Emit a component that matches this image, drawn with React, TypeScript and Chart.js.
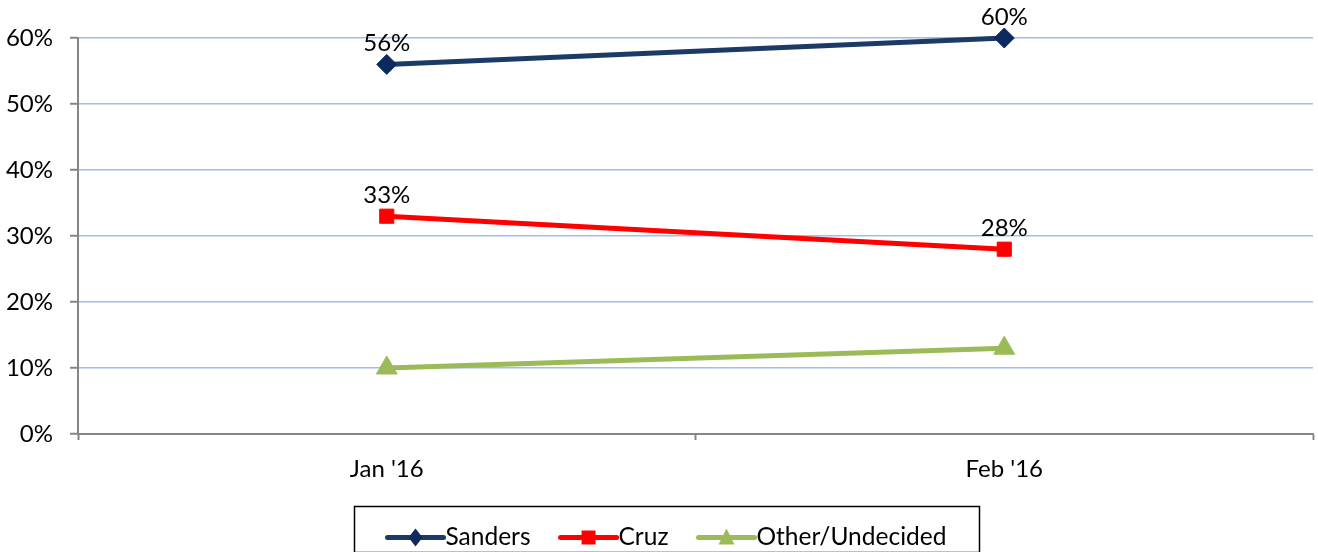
import React, { useEffect, useRef } from "react";
import { Chart, registerables } from "chart.js";

Chart.register(...registerables);

const categories = ["Jan '16", "Feb '16"];
const seriesNames = ["Sanders", "Cruz", "Other/Undecided"];
const sandersValues = [56, 60];
const cruzValues = [33, 28];
const otherValues = [10, 13];
const labeledSeries = [0, 1];

const FONT = "Lato, 'Open Sans', sans-serif";

const dataLabelPlugin = {
  id: "dataLabels",
  afterDatasetsDraw(chart: any) {
    const ctx = chart.ctx;
    labeledSeries.forEach((i) => {
      const ds = chart.data.datasets[i];
      const meta = chart.getDatasetMeta(i);
      meta.data.forEach((pt: any, j: number) => {
        ctx.save();
        ctx.font = `24px ${FONT}`;
        ctx.fillStyle = "#000";
        ctx.textAlign = "center";
        ctx.textBaseline = "middle";
        ctx.fillText(`${ds.data[j]}%`, pt.x, pt.y - 21);
        ctx.restore();
      });
    });
  },
};

function drawMarker(ctx: any, style: string, x: number, y: number, color: string) {
  ctx.fillStyle = color;
  ctx.beginPath();
  if (style === "rectRot") {
    ctx.moveTo(x, y - 9);
    ctx.lineTo(x + 7, y);
    ctx.lineTo(x, y + 9);
    ctx.lineTo(x - 7, y);
  } else if (style === "rect") {
    ctx.rect(x - 7, y - 7, 14, 14);
  } else {
    ctx.moveTo(x, y - 9);
    ctx.lineTo(x + 8, y + 7);
    ctx.lineTo(x - 8, y + 7);
  }
  ctx.closePath();
  ctx.fill();
}

const boxLegendPlugin = {
  id: "boxLegend",
  afterDraw(chart: any) {
    const ctx = chart.ctx;
    ctx.save();
    ctx.font = `24.5px ${FONT}`;
    const lineW = 56;
    const textGap = 2;
    const itemGap = 30;
    const padX = 33;
    const items = chart.data.datasets.map((ds: any) => ({
      ds,
      w: ctx.measureText(ds.label).width,
    }));
    const total =
      items.reduce((s: number, it: any) => s + lineW + textGap + it.w, 0) +
      itemGap * (items.length - 1);
    const boxW = total + 2 * padX;
    const cx = chart.width / 2 + 7;
    const boxLeft = Math.round(cx - boxW / 2) + 0.5;
    const boxTop = chart.height - 46 + 0.5;
    ctx.strokeStyle = "#000";
    ctx.lineWidth = 1.5;
    ctx.strokeRect(boxLeft, boxTop, Math.round(boxW), 46);
    const y = boxTop + 31;
    let x = boxLeft + padX;
    items.forEach((it: any) => {
      ctx.strokeStyle = it.ds.borderColor;
      ctx.lineWidth = 5;
      ctx.lineCap = "round";
      ctx.beginPath();
      ctx.moveTo(x, y);
      ctx.lineTo(x + lineW, y);
      ctx.stroke();
      drawMarker(ctx, it.ds.pointStyle, x + lineW / 2, y, it.ds.pointBackgroundColor);
      ctx.fillStyle = "#000";
      ctx.textAlign = "left";
      ctx.textBaseline = "middle";
      ctx.fillText(it.ds.label, x + lineW + textGap, y);
      x += lineW + textGap + it.w + itemGap;
    });
    ctx.restore();
  },
};

export default function App() {
  const canvasRef = useRef<HTMLCanvasElement | null>(null);

  useEffect(() => {
    if (!canvasRef.current) return;
    const chart = new Chart(canvasRef.current, {
      type: "line",
      data: {
        labels: categories,
        datasets: [
          {
            label: seriesNames[0],
            data: sandersValues,
            borderColor: "#1b3a66",
            borderWidth: 5,
            pointStyle: "rectRot",
            pointRadius: 10,
            pointBackgroundColor: "#0c2a5e",
            pointBorderColor: "#0c2a5e",
            pointBorderWidth: 1,
            clip: false,
          },
          {
            label: seriesNames[1],
            data: cruzValues,
            borderColor: "#ff0000",
            borderWidth: 5,
            pointStyle: "rect",
            pointRadius: 10,
            pointBackgroundColor: "#ff0000",
            pointBorderColor: "#ff0000",
            pointBorderWidth: 1,
            clip: false,
          },
          {
            label: seriesNames[2],
            data: otherValues,
            borderColor: "#9bbb59",
            borderWidth: 5,
            pointStyle: "triangle",
            pointRadius: 12,
            pointBackgroundColor: "#9bbb59",
            pointBorderColor: "#9bbb59",
            pointBorderWidth: 1,
            clip: false,
          },
        ],
      },
      options: {
        animation: false,
        responsive: false,
        layout: { autoPadding: false, padding: { top: 38, right: 5, left: 0, bottom: 0 } },
        plugins: {
          legend: { display: false },
          tooltip: { enabled: false },
        },
        scales: {
          x: {
            offset: true,
            grid: {
              display: true,
              drawOnChartArea: false,
              offset: true,
              tickLength: 6,
              tickColor: "#868686",
              tickWidth: 2,
            },
            border: { color: "#868686", width: 2 },
            ticks: {
              color: "#000",
              font: { family: FONT, size: 24 },
              padding: 15,
            },
            afterFit(scale: any) {
              scale.height = 118;
              scale.paddingLeft = 0;
              scale.paddingRight = 0;
            },
          },
          y: {
            min: 0,
            max: 60,
            ticks: {
              stepSize: 10,
              color: "#000",
              font: { family: FONT, size: 24 },
              padding: 17,
              callback: (v: any) => `${v}%`,
            },
            grid: {
              color: "#a3bce8",
              lineWidth: 1.5,
              tickLength: 8,
              tickColor: "#868686",
              tickWidth: 2,
            },
            border: { color: "#868686", width: 2 },
            afterFit(scale: any) {
              scale.width = 78;
            },
          },
        },
      },
      plugins: [dataLabelPlugin, boxLegendPlugin],
    } as any);
    return () => chart.destroy();
  }, []);

  return (
    <div style={{ position: "absolute", left: 0, top: 0, width: 1318, height: 552 }}>
      <canvas ref={canvasRef} width={1318} height={552} />
    </div>
  );
}
